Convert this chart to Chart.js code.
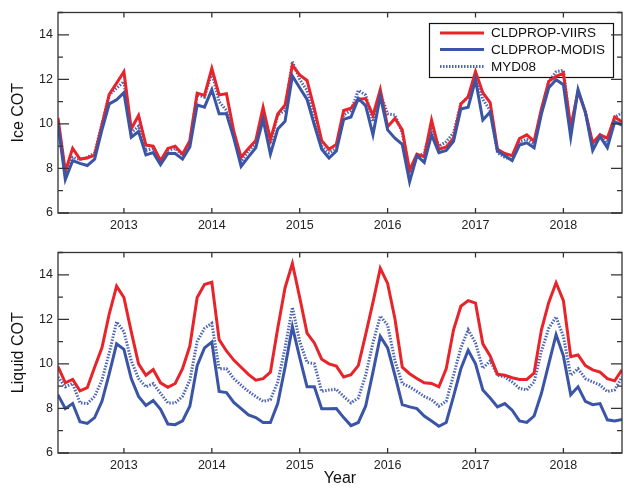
<!DOCTYPE html>
<html>
<head>
<meta charset="utf-8">
<script src="https://cdn.jsdelivr.net/npm/chart.js@4.4.1/dist/chart.umd.min.js"></script>
<style>
  body { margin: 0; background: #fff; }
  #wrap { position: relative; width: 624px; height: 497px; }
  #wrap canvas { position: absolute; left: 0; }
</style>
</head>
<body>
<div id="wrap">
  <canvas id="iceChart" width="624" height="240" style="top:0"></canvas>
  <canvas id="liqChart" width="624" height="257" style="top:240px"></canvas>
</div>
<script>
// monthly samples, April 2012 .. September 2018
const firstMonth = 2012.25;
const nMonths = 78;
const months = Array.from({ length: nMonths }, (_, i) => firstMonth + i / 12);

const yearTicks = [2013, 2014, 2015, 2016, 2017, 2018];
const cotTicks = [6, 8, 10, 12, 14];
const seriesNames = ['CLDPROP-VIIRS', 'CLDPROP-MODIS', 'MYD08'];

const iceViirs = [10.27, 7.88, 8.9, 8.42, 8.47, 8.6, 9.95, 11.33, 11.83, 12.34, 9.77, 10.38, 9.05, 9.0, 8.35, 8.9,
  9.0, 8.64, 9.25, 11.38, 11.28, 12.49, 11.3, 11.35, 9.66, 8.5, 8.9, 9.25, 10.74, 9.29, 10.45, 10.85,
  12.63, 12.2, 11.95, 10.67, 9.25, 8.86, 9.08, 10.6, 10.7, 11.11, 11.14, 10.38, 11.54, 9.87, 10.24, 9.73,
  7.91, 8.64, 8.52, 10.17, 8.86, 8.96, 9.36, 10.89, 11.22, 12.34, 11.4, 10.96, 8.86, 8.67, 8.57, 9.34,
  9.51, 9.22, 10.67, 11.91, 12.13, 12.27, 9.85, 11.47, 10.53, 9.15, 9.51, 9.36, 10.31, 10.09];
const iceModis = [10.0, 7.5, 8.35, 8.23, 8.13, 8.42, 9.73, 10.9, 11.08, 11.4, 9.4, 9.66, 8.61, 8.71, 8.17, 8.67,
  8.67, 8.42, 8.96, 10.85, 10.75, 11.54, 10.45, 10.45, 9.36, 8.09, 8.52, 8.93, 10.2, 8.64, 9.77, 10.12,
  12.15, 11.62, 11.1, 9.95, 8.86, 8.47, 8.78, 10.2, 10.31, 11.14, 10.82, 9.51, 11.25, 9.73, 9.36, 9.08,
  7.4, 8.57, 8.27, 9.51, 8.71, 8.81, 9.22, 10.67, 10.75, 11.98, 10.17, 10.53, 8.78, 8.57, 8.35, 9.05,
  9.15, 8.93, 10.45, 11.62, 11.98, 11.76, 9.4, 11.54, 10.53, 8.81, 9.44, 8.93, 10.09, 9.95];
const iceMyd08 = [10.1, 7.7, 8.5, 8.4, 8.5, 8.7, 10.0, 11.3, 11.6, 11.9, 9.6, 9.9, 8.8, 8.9, 8.3, 8.8,
  8.9, 8.6, 9.2, 11.3, 11.2, 12.3, 11.0, 10.6, 9.5, 8.3, 8.8, 9.1, 10.3, 9.1, 10.4, 10.6,
  12.8, 12.0, 11.5, 10.3, 9.0, 8.7, 8.9, 10.4, 10.6, 11.5, 11.3, 10.1, 11.4, 10.45, 10.4, 9.6,
  7.8, 8.5, 8.7, 9.9, 9.0, 9.2, 9.6, 10.9, 11.2, 12.2, 11.1, 10.6, 8.7, 8.5, 8.4, 9.2,
  9.3, 9.1, 10.6, 11.9, 12.34, 12.41, 9.7, 11.5, 10.5, 9.0, 9.5, 9.1, 10.3, 10.5];

const liqViirs = [9.88, 9.15, 9.3, 8.79, 8.93, 9.85, 10.72, 12.25, 13.49, 12.98, 11.45, 10.0, 9.49, 9.75, 9.15, 8.95,
  9.12, 9.78, 10.8, 12.98, 13.56, 13.67, 11.09, 10.58, 10.17, 9.85, 9.53, 9.27, 9.34, 9.63, 11.6, 13.42,
  14.51, 12.98, 11.38, 10.94, 10.21, 10.0, 9.9, 9.41, 9.51, 9.92, 11.31, 12.76, 14.29, 13.61, 12.03, 9.85,
  9.56, 9.34, 9.15, 9.12, 8.97, 9.78, 11.53, 12.59, 12.84, 12.73, 10.9, 10.36, 9.53, 9.49, 9.38, 9.3,
  9.3, 9.59, 11.53, 12.76, 13.64, 12.84, 10.32, 10.4, 9.92, 9.73, 9.63, 9.34, 9.24, 9.73];
const liqModis = [8.61, 7.99, 8.22, 7.4, 7.33, 7.59, 8.32, 9.56, 10.9, 10.65, 9.34, 8.54, 8.13, 8.36, 7.96, 7.3,
  7.27, 7.44, 8.1, 9.92, 10.72, 10.98, 8.76, 8.71, 8.27, 7.99, 7.71, 7.59, 7.37, 7.37, 8.22, 9.85,
  11.67, 10.28, 8.97, 8.97, 7.99, 7.99, 8.0, 7.59, 7.23, 7.37, 8.1, 9.63, 11.23, 10.72, 9.49, 8.17,
  8.07, 7.99, 7.66, 7.44, 7.2, 7.37, 8.54, 9.78, 10.61, 10.0, 8.83, 8.47, 8.07, 8.22, 7.92, 7.44,
  7.37, 7.66, 8.68, 10.0, 11.31, 10.36, 8.61, 8.97, 8.32, 8.17, 8.22, 7.49, 7.44, 7.5];
const liqMyd08 = [9.41, 8.97, 9.12, 8.25, 8.22, 8.54, 9.27, 10.5, 11.89, 11.45, 10.14, 9.34, 8.97, 9.12, 8.68, 8.25,
  8.25, 8.54, 9.27, 11.0, 11.6, 11.82, 9.78, 9.78, 9.34, 9.05, 8.76, 8.54, 8.32, 8.39, 9.19, 10.72,
  12.54, 11.01, 10.07, 10.0, 8.76, 8.83, 8.86, 8.54, 8.25, 8.47, 9.49, 10.94, 12.15, 11.74, 10.14, 9.12,
  8.97, 8.76, 8.54, 8.39, 8.1, 8.32, 9.49, 10.72, 11.53, 10.94, 9.8, 10.14, 9.49, 9.41, 9.19, 8.9,
  8.83, 9.19, 10.58, 11.6, 12.11, 11.23, 9.49, 9.78, 9.34, 9.19, 9.05, 8.76, 8.83, 9.41];

const RED = '#e8242b';
const BLUE = '#3b55a6';
const DOTBLUE = '#4d64b5';

Chart.defaults.font.family = "'Liberation Sans', Arial, Helvetica, sans-serif";
Chart.defaults.color = '#222';

function pts(arr) {
  return arr.map((v, i) => ({ x: months[i], y: v }));
}

// box around the plot with inward ticks on all four sides
const frameTicks = {
  id: 'frameTicks',
  afterDatasetsDraw(chart) {
    const { ctx, chartArea: a, scales: { x, y } } = chart;
    ctx.save();
    ctx.strokeStyle = '#333';
    ctx.lineWidth = 1.3;
    ctx.strokeRect(a.left, a.top, a.right - a.left, a.bottom - a.top);
    ctx.beginPath();
    for (let v = y.min; v <= y.max; v++) {
      const py = y.getPixelForValue(v);
      const len = cotTicks.includes(v) ? 11 : 5;
      ctx.moveTo(a.left, py); ctx.lineTo(a.left + len, py);
      ctx.moveTo(a.right, py); ctx.lineTo(a.right - len, py);
    }
    yearTicks.forEach(v => {
      const px = x.getPixelForValue(v);
      ctx.moveTo(px, a.top); ctx.lineTo(px, a.top + 5);
      ctx.moveTo(px, a.bottom); ctx.lineTo(px, a.bottom - 5);
    });
    ctx.stroke();
    ctx.restore();
  }
};

// legend box inside the upper panel, lines are drawn over it
const boxLegend = {
  id: 'boxLegend',
  beforeDatasetsDraw(chart) {
    const ctx = chart.ctx;
    const bx = 429.5, by = 23.5, bw = 184, bh = 54;
    const rows = [33, 49.5, 66.5];
    ctx.save();
    ctx.fillStyle = '#fff';
    ctx.fillRect(bx, by, bw, bh);
    ctx.strokeStyle = '#111';
    ctx.lineWidth = 1.2;
    ctx.strokeRect(bx, by, bw, bh);
    chart.data.datasets.forEach((ds, i) => {
      ctx.beginPath();
      ctx.strokeStyle = ds.borderColor;
      ctx.lineWidth = ds.borderWidth;
      ctx.setLineDash(ds.borderDash || []);
      ctx.moveTo(440, rows[i]);
      ctx.lineTo(484, rows[i]);
      ctx.stroke();
      ctx.setLineDash([]);
      ctx.fillStyle = '#111';
      ctx.font = "13.5px 'Liberation Sans', Arial, sans-serif";
      ctx.textBaseline = 'middle';
      ctx.fillText(ds.label, 491, rows[i] + 0.5);
    });
    ctx.restore();
  }
};

function makeChart(id, viirs, modis, myd, yTitle, opts) {
  const plugins = [frameTicks];
  if (opts.legend) plugins.push(boxLegend);
  return new Chart(document.getElementById(id), {
    type: 'line',
    data: {
      datasets: [
        { label: seriesNames[0], data: pts(viirs), borderColor: RED, borderWidth: 3, order: 1 },
        { label: seriesNames[1], data: pts(modis), borderColor: BLUE, borderWidth: 3, order: 0 },
        { label: seriesNames[2], data: pts(myd), borderColor: DOTBLUE, borderWidth: 3, borderDash: [1.5, 1.5], order: 2 }
      ]
    },
    options: {
      responsive: false,
      animation: false,
      layout: { padding: { top: opts.top, right: 2, left: 0, bottom: 0 } },
      elements: { point: { radius: 0 }, line: { tension: 0, fill: false } },
      plugins: { legend: { display: false }, tooltip: { enabled: false } },
      scales: {
        x: {
          type: 'linear',
          min: firstMonth,
          max: months[nMonths - 1],
          grid: { display: false, drawTicks: false, tickLength: 0 },
          border: { display: false },
          afterBuildTicks: s => { s.ticks = yearTicks.map(v => ({ value: v })); },
          afterFit: s => { s.height = opts.xHeight; },
          ticks: { padding: 5, font: { size: 12.5 }, color: '#222', maxRotation: 0, callback: v => String(v) },
          title: { display: opts.year, text: 'Year', font: { size: 16 }, color: '#111', padding: { top: 0, bottom: 9 } }
        },
        y: {
          min: 6,
          max: 15,
          grid: { display: false, drawTicks: false, tickLength: 0 },
          border: { display: false },
          afterBuildTicks: s => { s.ticks = cotTicks.map(v => ({ value: v })); },
          afterFit: s => { s.width = 58; },
          ticks: { padding: 5, font: { size: 12.5 }, color: '#222' },
          title: { display: true, text: yTitle, font: { size: 16 }, color: '#111', padding: { top: 8.5, bottom: 0 } }
        }
      }
    },
    plugins: plugins
  });
}

makeChart('iceChart', iceViirs, iceModis, iceMyd08, 'Ice COT', { top: 7, xHeight: 27, year: false, legend: true });
makeChart('liqChart', liqViirs, liqModis, liqMyd08, 'Liquid COT', { top: 9, xHeight: 44, year: true, legend: false });
</script>
</body>
</html>
